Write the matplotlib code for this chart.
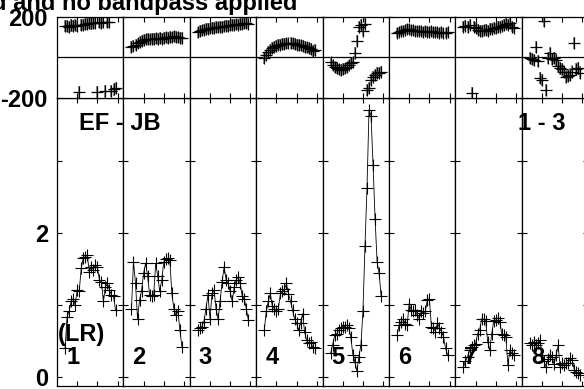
import matplotlib
matplotlib.use("Agg")
import matplotlib.pyplot as plt

plt.rcParams['font.family'] = ['Liberation Sans', 'DejaVu Sans']
plt.rcParams['axes.unicode_minus'] = False

channels = list(range(4, 30))

amp1 = [0.40, 0.84, 0.91, 1.05, 1.09, 1.00, 1.21, 1.19, 1.51, 1.65, 1.67, 1.69, 1.46,
        1.53, 1.49, 1.56, 1.53, 1.35, 1.32, 1.05, 1.25, 1.30, 1.21, 1.14, 1.12, 0.93]
amp2 = [0.95, 1.60, 1.30, 0.81, 1.07, 1.20, 1.44, 1.58, 1.40, 1.14, 1.12, 1.14, 1.58,
        1.40, 1.19, 1.35, 1.60, 1.64, 1.65, 1.62, 1.16, 0.95, 0.86, 0.92, 0.65, 0.42]
amp3 = [0.65, 0.68, 0.70, 0.77, 0.95, 1.14, 0.81, 1.16, 1.21, 0.95, 0.80, 1.05, 1.32,
        1.53, 1.35, 1.30, 1.19, 1.05, 1.25, 1.35, 1.39, 1.30, 1.12, 1.08, 0.95, 0.79]
amp4 = [0.65, 0.91, 1.05, 1.16, 0.98, 0.95, 0.91, 0.95, 1.16, 1.19, 1.22, 1.30, 1.15,
        1.05, 0.93, 0.81, 0.75, 0.65, 0.75, 0.88, 0.62, 0.51, 0.47, 0.48, 0.42, 0.40]
amp5 = [0.33, 0.45, 0.58, 0.60, 0.65, 0.68, 0.70, 0.70, 0.72, 0.68, 0.55, 0.31, 0.21,
        0.08, 0.28, 0.45, 0.92, 1.82, 2.63, 3.71, 3.63, 2.94, 2.20, 1.60, 1.44, 1.12]
amp6 = [0.58, 0.72, 0.77, 0.81, 0.74, 0.72, 1.02, 0.93, 0.91, 0.93, 0.86, 0.81, 0.91,
        0.89, 0.91, 1.07, 1.09, 0.70, 0.68, 0.63, 0.75, 0.68, 0.63, 0.56, 0.40, 0.31]
amp7 = [0.14, 0.22, 0.28, 0.37, 0.42, 0.44, 0.46, 0.60, 0.65, 0.81, 0.80, 0.78, 0.49,
        0.37, 0.60, 0.78, 0.79, 0.82, 0.76, 0.60, 0.58, 0.56, 0.17, 0.37, 0.33, 0.31]
amp8 = [0.47, 0.45, 0.49, 0.44, 0.47, 0.51, 0.30, 0.22, 0.14, 0.25, 0.31, 0.28, 0.18,
        0.30, 0.44, 0.14, 0.19, 0.17, 0.19, 0.20, 0.26, 0.24, 0.10, 0.07, 0.05, 0.03]

phase1 = [152, 155, 150, 156, 153, 158, 155, -170, 160, 158, 162, 165, 168,
          166, 170, 168, -172, 172, 170, 174, -168, 172, 175, -165, -158, -150]
phase2 = [50, 55, 60, 68, 75, 80, 85, 88, 90, 88, 92, 90, 93,
          90, 95, 92, 95, 97, 95, 100, 98, 102, 100, 98, 96, 95]
phase3 = [122, 128, 132, 135, 138, 140, 142, 145, 143, 148, 147, 150, 148,
          152, 155, 153, 157, 158, 160, 162, 160, 165, 163, 167, 168, 165]
phase4 = [-5, 10, 25, 35, 45, 50, 55, 60, 62, 65, 65, 68, 68,
          70, 68, 65, 62, 60, 58, 55, 50, 48, 45, 40, 30, 35]
phase5 = [-25, -40, -50, -55, -60, -62, -58, -55, -50, -40, -30, -25, 20,
          80, 150, 160, 130, 165, -160, -150, -110, -95, -85, -78, -75, -70]
phase6 = [120, 125, 128, 130, 135, 140, 138, 135, 132, 130, 128, 130, 127,
          125, 128, 126, 124, 127, 125, 122, 124, 120, 122, 118, 120, 123]
phase7 = [150, 155, 148, 160, -175, 150, 145, 135, 130, 128, 132, 135, 130,
          138, 140, 145, 142, 148, 150, 155, 158, 165, 160, 168, 150, 145]
phase8 = [-5, -10, -15, 50, -20, -100, -110, 180, -160, -5, 20, -10, -5,
          -15, -45, -55, -60, -70, -95, -90, -85, -70, 70, -60, -55, -75]

phase_err = [30, 28, 28, 28, 28, 25, 28, 30]

amps = [amp1, amp2, amp3, amp4, amp5, amp6, amp7, amp8]
phases = [phase1, phase2, phase3, phase4, phase5, phase6, phase7, phase8]
panel_labels = ["1", "2", "3", "4", "5", "6", "7", "8"]

W, H = 584, 389
fig = plt.figure(figsize=(W / 100, H / 100), dpi=100)

left0 = 57.0
pw = 66.4
fs = 17


def box(px_left, px_top, px_w, px_h):
    return [px_left / W, 1 - (px_top + px_h) / H, px_w / W, px_h / H]


def style(ax):
    for s in ax.spines.values():
        s.set_linewidth(0.9)
        s.set_color("black")
    ax.tick_params(direction="in", length=3.8, width=0.8, top=True, right=True,
                   labelbottom=False, labelleft=False, colors="black")
    ax.set_xticks([10, 20, 30])
    ax.set_xlim(0, 32.9)


for i in range(8):
    left = left0 + pw * i

    # amplitude panel
    ax = fig.add_axes(box(left, 98, pw, 288))
    style(ax)
    ax.plot(channels, amps[i], color="black", lw=0.6,
            marker="+", ms=8.5, mew=0.8)
    ax.set_ylim(-0.125, 3.875)
    ax.set_yticks([0, 1, 2, 3])
    if i == 0:
        ax.set_yticks([0, 2])
        ax.set_yticks([1, 3], minor=True)
        ax.tick_params(which="minor", direction="in", length=3.8, width=0.8, right=True)
        ax.tick_params(labelleft=True, pad=6.5, labelsize=fs)
        for t in ax.get_yticklabels():
            t.set_fontweight("bold")

    # phase panel
    axp = fig.add_axes(box(left, 16.5, pw, 81.5))
    style(axp)
    axp.axhline(0, color="black", lw=0.9)
    axp.errorbar(channels, phases[i], yerr=phase_err[i], fmt="none",
                 ecolor="#808080", elinewidth=1.2)
    axp.plot(channels, phases[i], ls="none", color="black",
             marker="+", ms=8.5, mew=0.9)
    axp.set_ylim(-200, 200)
    axp.set_yticks([-200, 200])
    if i == 0:
        axp.tick_params(labelleft=True, pad=6.5, labelsize=fs)
        for t in axp.get_yticklabels():
            t.set_fontweight("bold")

    fig.text((left + 9) / W, 1 - 357 / H, panel_labels[i], fontsize=fs,
             fontweight="bold", ha="left", va="center")

fig.text(58 / W, 1 - 335 / H, "(LR)", fontsize=fs, fontweight="bold",
         ha="left", va="center")
fig.text(120 / W, 1 - 123 / H, "EF - JB", fontsize=fs, fontweight="bold",
         ha="center", va="center")
fig.text(542 / W, 1 - 123 / H, "1 - 3", fontsize=fs, fontweight="bold",
         ha="center", va="center")
fig.text(297 / W, 1 - 10 / H, "Calibrated and no bandpass applied", fontsize=fs,
         fontweight="bold", ha="right", va="baseline")

fig.savefig("out.png", dpi=100)
